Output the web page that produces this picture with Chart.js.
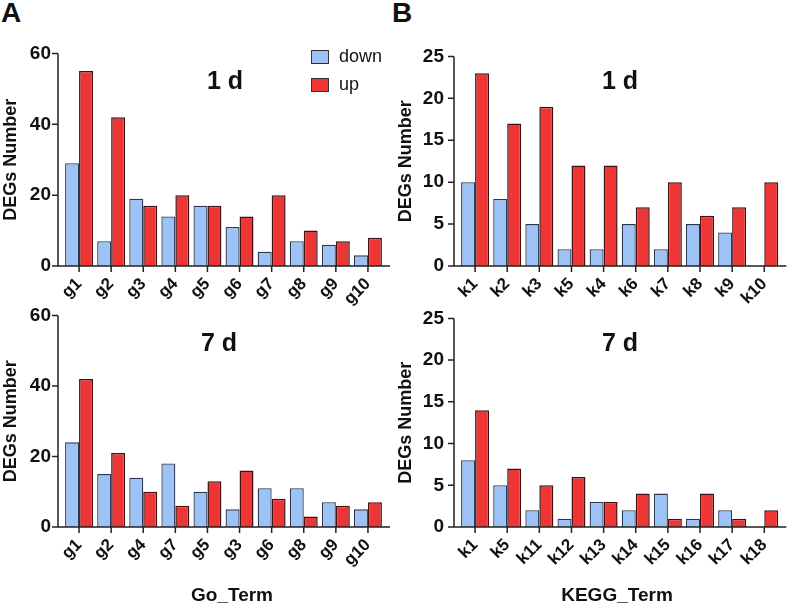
<!DOCTYPE html>
<html>
<head>
<meta charset="utf-8">
<script src="https://cdn.jsdelivr.net/npm/chart.js@4.4.1/dist/chart.umd.min.js"></script>
<style>
body { margin: 0; background: #fff; width: 787px; height: 604px; position: relative; overflow: hidden; font-family: "Liberation Sans", Arial, sans-serif; color: #111; }
canvas { position: absolute; }
.t { position: absolute; font-weight: bold; transform: translate(-50%, -50%); white-space: nowrap; }
.letter { position: absolute; font-weight: bold; font-size: 28px; line-height: 1; }
.leg { position: absolute; font-size: 18px; display: flex; align-items: center; }
.leg span { display: inline-block; width: 16px; height: 12px; border: 1.5px solid #333; margin-right: 10px; }
</style>
</head>
<body>
<div class="letter" style="left:1px;top:-1px">A</div>
<div class="letter" style="left:392px;top:-1px">B</div>

<canvas id="goDay1" width="393" height="285" style="left:0;top:30px"></canvas>
<canvas id="keggDay1" width="392" height="285" style="left:395px;top:30px"></canvas>
<canvas id="goDay7" width="393" height="312" style="left:0;top:292px"></canvas>
<canvas id="keggDay7" width="392" height="312" style="left:395px;top:292px"></canvas>

<div class="t" style="left:225px;top:80px;font-size:25px">1 d</div>
<div class="t" style="left:620px;top:80px;font-size:25px">1 d</div>
<div class="t" style="left:219px;top:342px;font-size:25px">7 d</div>
<div class="t" style="left:620px;top:342px;font-size:25px">7 d</div>
<div class="t" style="left:232px;top:595px;font-size:19px">Go_Term</div>
<div class="t" style="left:617px;top:595px;font-size:19px">KEGG_Term</div>

<div class="leg" style="left:311px;top:46px"><span style="background:#9cc2f6"></span>down</div>
<div class="leg" style="left:311px;top:74px"><span style="background:#ee3434"></span>up</div>

<script>
// GO terms, day 1
const goLabels1 = ['g1', 'g2', 'g3', 'g4', 'g5', 'g6', 'g7', 'g8', 'g9', 'g10']
const goDown1 = [29, 7, 19, 14, 17, 11, 4, 7, 6, 3]
const goUp1 = [55, 42, 17, 20, 17, 14, 20, 10, 7, 8]

// KEGG terms, day 1
const keggLabels1 = ['k1', 'k2', 'k3', 'k5', 'k4', 'k6', 'k7', 'k8', 'k9', 'k10']
const keggDown1 = [10, 8, 5, 2, 2, 5, 2, 5, 4, 0]
const keggUp1 = [23, 17, 19, 12, 12, 7, 10, 6, 7, 10]

// GO terms, day 7
const goLabels7 = ['g1', 'g2', 'g4', 'g7', 'g5', 'g3', 'g6', 'g8', 'g9', 'g10']
const goDown7 = [24, 15, 14, 18, 10, 5, 11, 11, 7, 5]
const goUp7 = [42, 21, 10, 6, 13, 16, 8, 3, 6, 7]

// KEGG terms, day 7
const keggLabels7 = ['k1', 'k5', 'k11', 'k12', 'k13', 'k14', 'k15', 'k16', 'k17', 'k18']
const keggDown7 = [8, 5, 2, 1, 3, 2, 4, 1, 2, 0]
const keggUp7 = [14, 7, 5, 6, 3, 4, 1, 4, 1, 2]

const downColor = '#9cc2f6'
const upColor = '#ef3636'

Chart.defaults.font.family = "'Liberation Sans', Arial, sans-serif"
Chart.defaults.color = '#111'

// red bars have a fine dotted texture
function dotted() {
	const c = document.createElement('canvas')
	c.width = 4
	c.height = 4
	const g = c.getContext('2d')
	g.fillStyle = upColor
	g.fillRect(0, 0, 4, 4)
	g.fillStyle = '#db2e2e'
	g.fillRect(1, 1, 1, 1)
	return g.createPattern(c, 'repeat')
}
const upFill = dotted()

// axis lines sit a few pixels outside the bars, like the original
const axes = {
	id: 'axes',
	afterDraw(chart) {
		const { ctx, chartArea: a, scales } = chart
		const x0 = a.left - 5
		const x1 = a.right + 6
		ctx.save()
		ctx.strokeStyle = '#222'
		ctx.lineWidth = 1.5
		ctx.beginPath()
		ctx.moveTo(x0, a.top)
		ctx.lineTo(x0, a.bottom)
		ctx.lineTo(x1, a.bottom)
		scales.y.ticks.forEach(t => {
			const p = scales.y.getPixelForValue(t.value)
			ctx.moveTo(x0 - 6, p)
			ctx.lineTo(x0, p)
		})
		scales.x.ticks.forEach((t, i) => {
			const p = scales.x.getPixelForTick(i)
			ctx.moveTo(p, a.bottom)
			ctx.lineTo(p, a.bottom + 6)
		})
		ctx.stroke()
		ctx.restore()
	}
}

function panel(id, labels, down, up, max, step, box) {
	new Chart(document.getElementById(id), {
		type: 'bar',
		data: {
			labels: labels,
			datasets: [
				{ label: 'down', data: down, backgroundColor: downColor, borderColor: '#2c3850', borderWidth: 1.3 },
				{ label: 'up', data: up, backgroundColor: upFill, borderColor: '#421010', borderWidth: 1.5 }
			]
		},
		options: {
			responsive: false,
			animation: false,
			devicePixelRatio: 1,
			categoryPercentage: 0.87,
			barPercentage: 1,
			layout: { padding: { top: box.top, right: box.right, left: 0, bottom: 0 } },
			plugins: { legend: { display: false }, tooltip: { enabled: false } },
			scales: {
				x: {
					grid: { display: false, drawTicks: false },
					border: { display: false },
					ticks: { autoSkip: false, minRotation: 45, maxRotation: 45, padding: 8, font: { size: 17, weight: 'bold' } },
					afterFit(s) { s.height = box.xh }
				},
				y: {
					min: 0,
					max: max,
					grid: { display: false, drawTicks: false },
					border: { display: false },
					ticks: { stepSize: step, padding: box.pad, font: { size: 19, weight: 'bold' } },
					title: { display: true, text: 'DEGs Number', padding: 0, font: { size: 18, weight: 'bold' } },
					afterFit(s) { s.width = box.yw }
				}
			}
		},
		plugins: [axes]
	})
}

panel('goDay1', goLabels1, goDown1, goUp1, 60, 20, { top: 14, right: 9, yw: 63, xh: 49, pad: 12 })
panel('keggDay1', keggLabels1, keggDown1, keggUp1, 25, 5, { top: 14, right: 6, yw: 64, xh: 49, pad: 15 })
panel('goDay7', goLabels7, goDown7, goUp7, 60, 20, { top: 14, right: 9, yw: 63, xh: 77, pad: 12 })
panel('keggDay7', keggLabels7, keggDown7, keggUp7, 25, 5, { top: 14, right: 6, yw: 64, xh: 77, pad: 15 })
</script>
</body>
</html>
